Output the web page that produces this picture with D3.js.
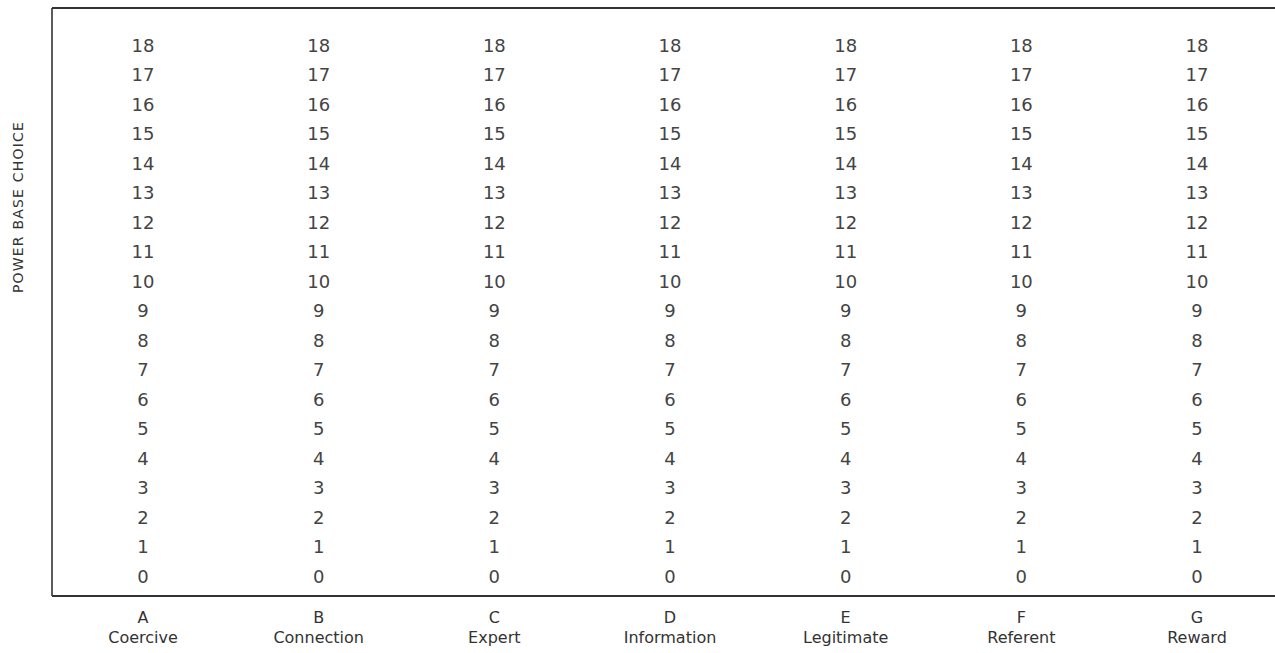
<!DOCTYPE html>
<html><head><meta charset="utf-8">
<script src="https://cdn.jsdelivr.net/npm/d3@7"></script>
<style>
html,body{margin:0;padding:0;background:#fff;}
svg text{font-family:"DejaVu Sans","Noto Sans",sans-serif;}
</style></head>
<body><svg id="c" width="1275" height="653"></svg>
<script>
const letters = ["A","B","C","D","E","F","G"];
const categories = ["Coercive","Connection","Expert","Information","Legitimate","Referent","Reward"];
const scoreLabels = [0,1,2,3,4,5,6,7,8,9,10,11,12,13,14,15,16,17,18];
const yTitle = "POWER BASE CHOICE";

const svg = d3.select("#c");
const frame = {left: 52, top: 8, right: 1275, bottom: 596};

const x = d3.scalePoint().domain(categories).range([143, 1197]);
const y = d3.scaleLinear().domain([0, 18]).range([576, 45]);

// frame lines
svg.append("line").attr("x1", frame.left).attr("x2", frame.right).attr("y1", frame.top).attr("y2", frame.top)
  .attr("stroke", "#333").attr("stroke-width", 1.8);
svg.append("line").attr("x1", frame.left).attr("x2", frame.right).attr("y1", frame.bottom).attr("y2", frame.bottom)
  .attr("stroke", "#333").attr("stroke-width", 1.8);
svg.append("line").attr("x1", frame.left).attr("x2", frame.left).attr("y1", frame.top).attr("y2", frame.bottom)
  .attr("stroke", "#333").attr("stroke-width", 1.6);

// number columns
const cols = svg.append("g").selectAll("g").data(categories).join("g")
  .attr("transform", d => `translate(${x(d)},0)`);
cols.selectAll("text").data(scoreLabels).join("text")
  .attr("x", 0).attr("y", d => y(d))
  .attr("text-anchor", "middle").attr("dominant-baseline", "central")
  .attr("font-size", 18).attr("fill", "#444")
  .text(d => d);

// category labels
const lab = svg.append("g").selectAll("g").data(categories).join("g")
  .attr("transform", d => `translate(${x(d)},0)`);
lab.append("text").attr("y", 617).attr("text-anchor", "middle").attr("dominant-baseline", "central")
  .attr("font-size", 16).attr("fill", "#333").text((d, i) => letters[i]);
lab.append("text").attr("y", 637).attr("text-anchor", "middle").attr("dominant-baseline", "central")
  .attr("font-size", 16).attr("fill", "#333").text(d => d);

// y title
svg.append("text").attr("transform", "translate(18,207) rotate(-90)")
  .attr("text-anchor", "middle").attr("dominant-baseline", "central")
  .attr("font-size", 14).attr("letter-spacing", 1.2).attr("fill", "#333").text(yTitle);
</script></body></html>
